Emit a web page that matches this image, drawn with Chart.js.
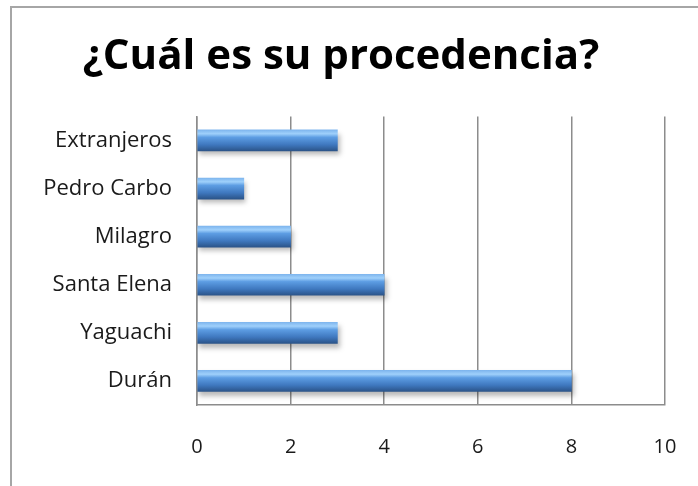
<!DOCTYPE html>
<html>
<head>
<meta charset="utf-8">
<script src="https://cdn.jsdelivr.net/npm/chart.js@4"></script>
<style>
  html, body { margin: 0; padding: 0; background: #fff; }
  #wrap { width: 698px; height: 486px; }
</style>
</head>
<body>
<div id="wrap"><canvas id="chart" width="698" height="486"></canvas></div>
<script>
// data, top to bottom
const categories = ['Extranjeros', 'Pedro Carbo', 'Milagro', 'Santa Elena', 'Yaguachi', 'Durán'];
const values = [3, 1, 2, 4, 3, 8];
const titleText = '¿Cuál es su procedencia?';
const axisMax = 10;
const axisStep = 2;

const BAR_H = 21;

// outer frame of the chart object (left and top edges visible)
const framePlugin = {
  id: 'frame',
  beforeDraw(chart) {
    const ctx = chart.ctx;
    ctx.save();
    ctx.strokeStyle = '#a6a6a6';
    ctx.lineWidth = 2;
    ctx.beginPath();
    ctx.moveTo(11, chart.height);
    ctx.lineTo(11, 7);
    ctx.lineTo(chart.width, 7);
    ctx.stroke();
    ctx.restore();
  }
};

// soft shadow under the bars
const shadowPlugin = {
  id: 'barShadow',
  beforeDatasetsDraw(chart) {
    const ctx = chart.ctx;
    ctx.save();
    ctx.shadowColor = 'rgba(0,0,0,0.28)';
    ctx.shadowBlur = 5;
    ctx.shadowOffsetX = 2;
    ctx.shadowOffsetY = 4;
  },
  afterDatasetsDraw(chart) {
    chart.ctx.restore();
  }
};

// vertical gradient for each bar so it looks like a tube
function barGradient(context) {
  const chart = context.chart;
  const yScale = chart.scales.y;
  if (!yScale) return '#4f81bd';
  const yc = yScale.getPixelForValue(context.dataIndex);
  if (!isFinite(yc)) return '#4f81bd';
  const g = chart.ctx.createLinearGradient(0, yc - BAR_H / 2, 0, yc + BAR_H / 2);
  g.addColorStop(0, '#7fb6ee');
  g.addColorStop(0.18, '#9fd0fb');
  g.addColorStop(0.35, '#5d9de3');
  g.addColorStop(0.7, '#3f78bf');
  g.addColorStop(1, '#2b5489');
  return g;
}

new Chart(document.getElementById('chart'), {
  type: 'bar',
  data: {
    labels: categories,
    datasets: [{
      data: values,
      backgroundColor: barGradient,
      borderColor: '#35659f',
      borderWidth: 0,
      barThickness: BAR_H
    }]
  },
  options: {
    indexAxis: 'y',
    responsive: false,
    animation: false,
    layout: { padding: { left: 17, right: 33, top: 0, bottom: 0 } },
    plugins: {
      legend: { display: false },
      tooltip: { enabled: false },
      title: {
        display: true,
        text: titleText,
        color: '#000',
        font: { family: 'Open Sans', size: 42, weight: 'bold', lineHeight: 1.2 },
        padding: { top: 32, bottom: 34 }
      }
    },
    scales: {
      x: {
        min: 0,
        max: axisMax,
        ticks: {
          stepSize: axisStep,
          padding: 30,
          color: '#1a1a1a',
          font: { family: 'Open Sans', size: 20 }
        },
        grid: { color: '#8c8c8c', lineWidth: 1.5, drawTicks: false },
        border: { display: true, color: '#8c8c8c', width: 1.5 },
        afterFit(scale) {
          scale.height = 81;
          scale.paddingLeft = 0;
          scale.paddingRight = 0;
        }
      },
      y: {
        ticks: {
          padding: 25,
          color: '#1a1a1a',
          font: { family: 'Open Sans', size: 22 }
        },
        grid: { display: false, drawTicks: false },
        border: { display: true, color: '#8c8c8c', width: 1.5 },
        afterFit(scale) { scale.width = 180; }
      }
    }
  },
  plugins: [framePlugin, shadowPlugin]
});
</script>
</body>
</html>
